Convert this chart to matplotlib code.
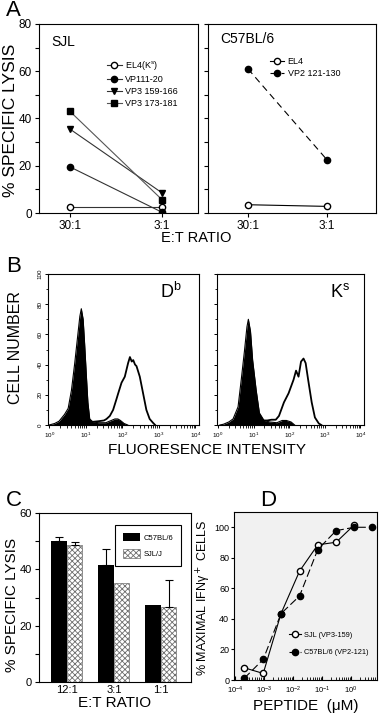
import numpy as np
import matplotlib
matplotlib.use("Agg")
import matplotlib.pyplot as plt
from matplotlib.ticker import MultipleLocator, LogLocator, NullFormatter

plt.rcParams['font.family'] = ['Liberation Sans', 'DejaVu Sans']
plt.rcParams['hatch.linewidth'] = 0.6

# ---- A : lysis vs E:T ratio ----
ratio_a = ['30:1', '3:1']
sjl_el4 = [2.5, 2.5]
sjl_vp1_11 = [19.5, 0.3]
sjl_vp3_159 = [35.5, 8.5]
sjl_vp3_173 = [43.0, 5.6]
b6_el4 = [3.5, 2.8]
b6_vp2_121 = [61.0, 22.5]

# ---- B : flow histograms (log10 intensity, cell number) ----
db_neg_log = [0.00, 0.15, 0.27, 0.42, 0.52, 0.61, 0.70, 0.79, 0.84, 0.88, 0.93, 0.97,
              1.02, 1.06, 1.11, 1.20, 1.35, 1.55, 1.70, 1.80, 1.88, 1.95, 2.05, 2.15]
db_neg_cnt = [0, 1, 2.5, 7, 11, 23, 41, 61, 72, 77, 70, 54,
              32, 15, 4, 2, 1.5, 1.5, 3, 4, 4, 3, 1, 0]
db_pos_log = [1.15, 1.35, 1.50, 1.57, 1.66, 1.75, 1.84, 1.89, 1.98, 2.07, 2.16, 2.21,
              2.26, 2.30, 2.35, 2.39, 2.48, 2.57, 2.66, 2.75, 2.84, 2.90]
db_pos_cnt = [2, 2.5, 3, 4, 6, 10, 17, 21, 28, 32, 41, 45,
              42, 43, 40, 39, 32, 21, 10, 4, 1.5, 0]
ks_neg_log = [0.05, 0.15, 0.30, 0.42, 0.56, 0.65, 0.74, 0.81, 0.85, 0.91, 0.97, 1.07,
              1.16, 1.29, 1.45, 1.65, 1.80, 1.92, 2.05, 2.15]
ks_neg_cnt = [0, 0.5, 2, 4, 12, 30, 49, 65, 70, 62, 43, 23,
              8, 3, 2, 1.5, 3, 3, 2, 0]
ks_pos_log = [1.25, 1.38, 1.50, 1.62, 1.71, 1.85, 1.98, 2.12, 2.19, 2.26, 2.33, 2.40,
              2.46, 2.53, 2.63, 2.72, 2.83, 2.90]
ks_pos_cnt = [3, 3, 3.5, 3.5, 6, 15, 21, 30, 36, 32, 42, 44,
              41, 30, 15, 5, 1, 0]

# ---- C : lysis bars ----
ratio_c = ['12:1', '3:1', '1:1']
c57_lysis = [50.0, 41.5, 27.3]
c57_err = [1.5, 5.7, 0]
sjlj_lysis = [48.8, 35.3, 26.7]
sjlj_err = [1.0, 0, 9.5]

# ---- D : peptide dose response ----
pep_conc = [2.1e-4, 9.5e-4, 3.9e-3, 1.7e-2, 7.2e-2, 0.31, 1.3, 5.3]
sjl_ifn = [8.0, 4.3, 43.5, 71.3, 88.5, 90.2, 101.5]
c57_ifn = [1.1, 13.5, 43.5, 55.0, 85.4, 97.8, 100.0, 100.0]

W, H = 379, 716
fig = plt.figure(figsize=(W / 100, H / 100), dpi=100)


def box(x0, y0, x1, y1):
    # pixel box (top-left origin) -> axes
    return fig.add_axes([x0 / W, 1 - y1 / H, (x1 - x0) / W, (y1 - y0) / H])


# ================= A =================
axA1 = box(39, 24, 198, 213)
axA2 = box(208, 24, 376, 213)
xa = np.arange(len(ratio_a))
kw = dict(ms=4.5, mec='k', lw=0.8)
axA1.plot(xa, sjl_el4, 'o-', mfc='white', color='#333333', label='EL4(K$^\\mathregular{s}$)', **kw)
axA1.plot(xa, sjl_vp1_11, 'o-', mfc='k', color='#333333', label='VP111-20', **kw)
axA1.plot(xa, sjl_vp3_159, 'v-', mfc='k', color='#333333', label='VP3 159-166', **kw)
axA1.plot(xa, sjl_vp3_173, 's-', mfc='k', color='#555555', label='VP3 173-181', **kw)
axA2.plot(xa, b6_el4, 'o-', mfc='white', color='k', label='EL4', **kw)
axA2.plot(xa, b6_vp2_121, 'o', ls=(0, (6, 4)), mfc='k', color='k', label='VP2 121-130', **kw)
axA1.set_xlim(-0.337, 1.39)
axA2.set_xlim(-0.506, 1.62)
for ax in (axA1, axA2):
    ax.set_ylim(0, 80)
    ax.set_xticks(xa)
    ax.set_xticklabels(ratio_a, fontsize=8.5)
    ax.yaxis.set_major_locator(MultipleLocator(20))
    ax.yaxis.set_minor_locator(MultipleLocator(10))
    ax.tick_params(direction='out', length=3, width=0.8, labelsize=8.5, pad=2)
    ax.tick_params(which='minor', direction='out', length=3, width=0.8)
axA2.tick_params(labelleft=False)
axA1.text(0.08, 0.905, 'SJL', transform=axA1.transAxes, fontsize=10, va='center')
axA2.text(0.07, 0.92, 'C57BL/6', transform=axA2.transAxes, fontsize=10, va='center')
axA1.legend(loc='upper left', bbox_to_anchor=(0.40, 0.84), frameon=False, fontsize=6.5,
            handlelength=1.6, labelspacing=0.35, borderpad=0, handletextpad=0.4, numpoints=1)
axA2.legend(loc='upper left', bbox_to_anchor=(0.34, 0.85), frameon=False, fontsize=6.5,
            handlelength=1.6, labelspacing=0.35, borderpad=0, handletextpad=0.4, numpoints=1)
fig.text(11 / W, 1 - 120 / H, '% SPECIFIC LYSIS', rotation=90, ha='center', va='center', fontsize=12.5)
fig.text(196 / W, 1 - 238 / H, 'E:T RATIO', ha='center', va='center', fontsize=10.5)

# ================= B =================
axB1 = box(48, 274, 199, 425)
axB2 = box(217, 274, 364, 425)
for ax, nl, nc, pl, pc in ((axB1, db_neg_log, db_neg_cnt, db_pos_log, db_pos_cnt),
                           (axB2, ks_neg_log, ks_neg_cnt, ks_pos_log, ks_pos_cnt)):
    xn = np.power(10.0, nl)
    xp = np.power(10.0, pl)
    ax.fill_between(xn, nc, color='k', lw=0)
    ax.plot(xn, nc, color='k', lw=0.8)
    ax.plot(xp, pc, color='k', lw=1.3)
    ax.set_xscale('log')
    ax.set_xlim(0.93, 10 ** 4.1)
    ax.set_ylim(0, 100)
    ax.yaxis.set_major_locator(MultipleLocator(20))
    ax.yaxis.set_minor_locator(MultipleLocator(10))
    ax.xaxis.set_major_locator(LogLocator(base=10, numticks=10))
    ax.xaxis.set_minor_locator(LogLocator(base=10, subs=np.arange(2, 10), numticks=10))
    ax.xaxis.set_minor_formatter(NullFormatter())
    ax.tick_params(direction='out', length=2.5, width=0.7, labelsize=4.5, pad=1.5)
    ax.tick_params(which='minor', direction='out', length=1.8, width=0.6)
for lab in axB1.get_yticklabels():
    lab.set_rotation(90)
    lab.set_va('center')
axB2.tick_params(labelleft=False)
axB1.text(0.74, 0.88, 'D$^\\mathregular{b}$', transform=axB1.transAxes, fontsize=13, va='center')
axB2.text(0.77, 0.88, 'K$^\\mathregular{s}$', transform=axB2.transAxes, fontsize=13, va='center')
fig.text(15 / W, 1 - 348 / H, 'CELL NUMBER', rotation=90, ha='center', va='center', fontsize=11.5)
fig.text(207 / W, 1 - 450 / H, 'FLUORESENCE INTENSITY', ha='center', va='center', fontsize=11)

# ================= C =================
axC = box(39, 513, 191, 682)
xc = np.arange(len(ratio_c))
bw = 0.33
axC.bar(xc - bw / 2, c57_lysis, bw, color='k', label='C57BL/6')
axC.bar(xc + bw / 2, sjlj_lysis, bw, color='white', edgecolor='#6e6e6e', hatch='xxxxxx',
        lw=0.5, label='SJL/J')
for xs, vals, errs in ((xc - bw / 2, c57_lysis, c57_err), (xc + bw / 2, sjlj_lysis, sjlj_err)):
    keep = [i for i, e in enumerate(errs) if e > 0]
    axC.errorbar([xs[i] for i in keep], [vals[i] for i in keep],
                 yerr=[[0] * len(keep), [errs[i] for i in keep]],
                 fmt='none', ecolor='k', elinewidth=0.8, capsize=3, capthick=0.8)
axC.set_xlim(-0.59, 2.64)
axC.set_ylim(0, 60)
axC.set_xticks(xc)
axC.set_xticklabels(ratio_c)
axC.yaxis.set_major_locator(MultipleLocator(20))
axC.yaxis.set_minor_locator(MultipleLocator(10))
axC.tick_params(direction='out', length=3, width=0.8, labelsize=8, pad=2)
axC.tick_params(axis='x', length=0)
axC.tick_params(which='minor', direction='out', length=3, width=0.8)
legC = axC.legend(loc='upper right', bbox_to_anchor=(0.96, 0.95), fontsize=5.5, fancybox=False,
                  edgecolor='k', framealpha=1, handlelength=2.2, handleheight=1.3,
                  borderpad=1.0, labelspacing=1.0, handletextpad=0.5)
legC.get_frame().set_linewidth(0.8)
fig.text(12 / W, 1 - 605 / H, '% SPECIFIC LYSIS', rotation=90, ha='center', va='center', fontsize=11)
axC.set_xlabel('E:T RATIO', fontsize=11, labelpad=1)

# ================= D =================
axD = box(234, 512, 377, 680)
axD.set_facecolor('#f1f1f1')
axD.plot(pep_conc[:len(sjl_ifn)], sjl_ifn, 'o-', color='k', mfc='white', mec='k', ms=4.5, lw=0.8,
         label='SJL (VP3-159)')
axD.plot(pep_conc, c57_ifn, 'o', ls=(0, (7, 3)), color='k', mfc='k', ms=4.5, lw=0.8,
         label='C57BL/6 (VP2-121)')
axD.set_xscale('log')
axD.set_xlim(10 ** -4.03, 10 ** 0.9)
axD.set_ylim(0, 110)
axD.yaxis.set_major_locator(MultipleLocator(20))
axD.xaxis.set_major_locator(LogLocator(base=10, numticks=10))
axD.xaxis.set_minor_locator(LogLocator(base=10, subs=np.arange(2, 10), numticks=10))
axD.xaxis.set_minor_formatter(NullFormatter())
axD.tick_params(axis='y', direction='out', length=2.5, width=0.8, labelsize=6.5, pad=1)
axD.tick_params(axis='x', direction='in', length=3, width=0.8, labelsize=5.5, pad=3.5)
axD.tick_params(axis='x', which='minor', direction='in', length=2, width=0.6)
axD.legend(loc='upper left', bbox_to_anchor=(0.36, 0.31), frameon=False, fontsize=5.3,
           handlelength=1.6, labelspacing=1.4, borderpad=0, handletextpad=0.4, numpoints=1)
fig.text(204 / W, 1 - 598 / H, '% MAXIMAL IFN\u03b3$^+$ CELLS', rotation=90, ha='center',
         va='center', fontsize=9)
axD.set_xlabel('PEPTIDE  (\u03bcM)', fontsize=11, labelpad=2)

# panel letters
for letter, px, py in (('A', 13, 10), ('B', 14, 266), ('C', 14, 500), ('D', 268, 500)):
    fig.text(px / W, 1 - py / H, letter, fontsize=16, ha='center', va='center')

fig.savefig('out.png', dpi=100)
